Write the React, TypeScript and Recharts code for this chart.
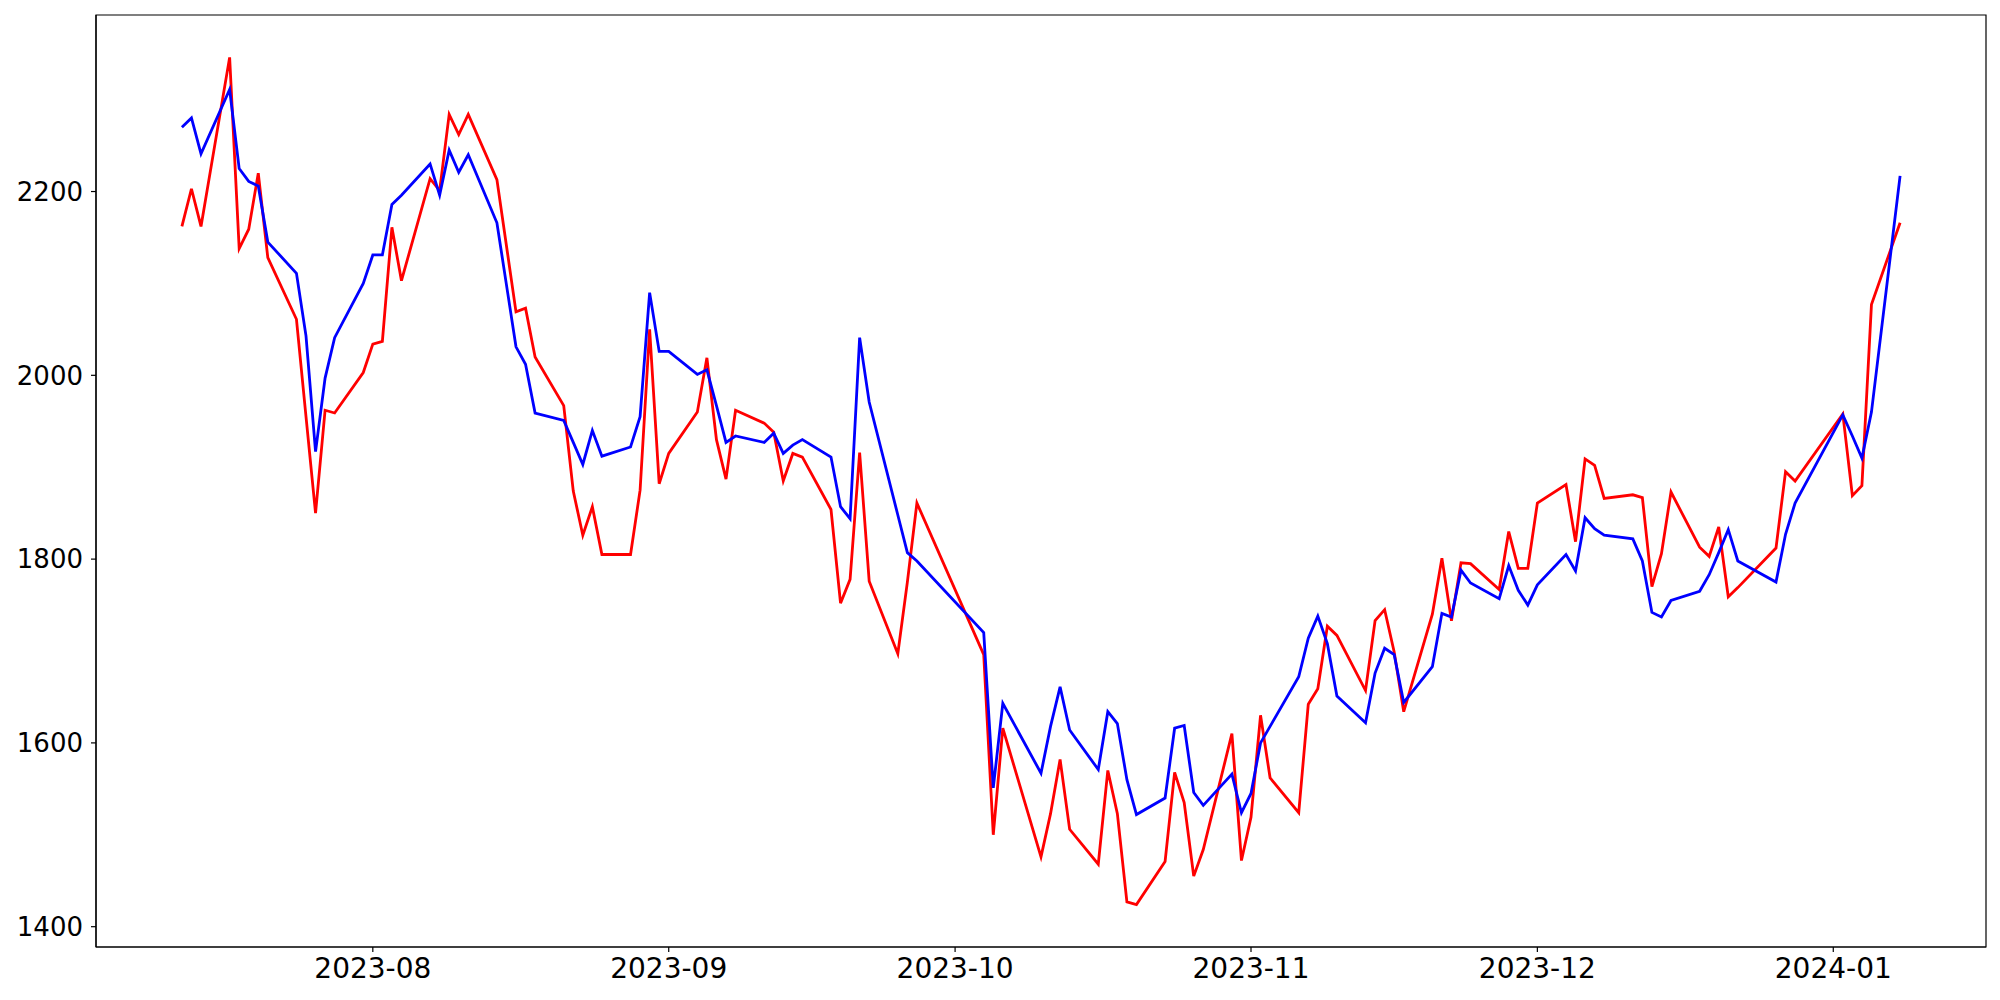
import { LineChart, Line, XAxis, YAxis, ReferenceArea } from "recharts";

const dates = [
  "2023-07-12", "2023-07-13", "2023-07-14", "2023-07-17", "2023-07-18", "2023-07-19", "2023-07-20", "2023-07-21",
  "2023-07-24", "2023-07-25", "2023-07-26", "2023-07-27", "2023-07-28", "2023-07-31",
  "2023-08-01", "2023-08-02", "2023-08-03", "2023-08-04", "2023-08-07", "2023-08-08", "2023-08-09", "2023-08-10",
  "2023-08-11", "2023-08-14", "2023-08-16", "2023-08-17", "2023-08-18", "2023-08-21", "2023-08-22", "2023-08-23",
  "2023-08-24", "2023-08-25", "2023-08-28", "2023-08-29", "2023-08-30", "2023-08-31",
  "2023-09-01", "2023-09-04", "2023-09-05", "2023-09-06", "2023-09-07", "2023-09-08", "2023-09-11", "2023-09-12",
  "2023-09-13", "2023-09-14", "2023-09-15", "2023-09-18", "2023-09-19", "2023-09-20", "2023-09-21", "2023-09-22",
  "2023-09-25", "2023-09-26", "2023-09-27",
  "2023-10-04", "2023-10-05", "2023-10-06", "2023-10-10", "2023-10-11", "2023-10-12", "2023-10-13", "2023-10-16",
  "2023-10-17", "2023-10-18", "2023-10-19", "2023-10-20", "2023-10-23", "2023-10-24", "2023-10-25", "2023-10-26",
  "2023-10-27", "2023-10-30", "2023-10-31",
  "2023-11-01", "2023-11-02", "2023-11-03", "2023-11-06", "2023-11-07", "2023-11-08", "2023-11-09", "2023-11-10",
  "2023-11-13", "2023-11-14", "2023-11-15", "2023-11-16", "2023-11-17", "2023-11-20", "2023-11-21", "2023-11-22",
  "2023-11-23", "2023-11-24", "2023-11-27", "2023-11-28", "2023-11-29", "2023-11-30",
  "2023-12-01", "2023-12-04", "2023-12-05", "2023-12-06", "2023-12-07", "2023-12-08", "2023-12-11", "2023-12-12",
  "2023-12-13", "2023-12-14", "2023-12-15", "2023-12-18", "2023-12-19", "2023-12-20", "2023-12-21", "2023-12-22",
  "2023-12-26", "2023-12-27", "2023-12-28",
  "2024-01-02", "2024-01-03", "2024-01-04", "2024-01-05", "2024-01-08",
];

const redValues = [
  2162, 2203, 2162, 2346, 2138, 2159, 2220, 2128, 2061, 1955, 1850, 1962, 1959, 2003,
  2034, 2037, 2161, 2103, 2214, 2201, 2284, 2262, 2284, 2213, 2069, 2073, 2020, 1967, 1874, 1826,
  1857, 1805, 1805, 1875, 2050, 1882,
  1915, 1960, 2019, 1930, 1887, 1962, 1948, 1938, 1885, 1915, 1911, 1854, 1752, 1778, 1916, 1776,
  1697, 1775, 1861,
  1696, 1500, 1616, 1476, 1523, 1582, 1506, 1468, 1570, 1523, 1427, 1424, 1471, 1568, 1535, 1455,
  1484, 1610, 1472,
  1519, 1630, 1562, 1524, 1642, 1659, 1727, 1717, 1657, 1733, 1745, 1699, 1634, 1740, 1801, 1733,
  1796, 1795, 1767, 1830, 1790, 1790,
  1861, 1881, 1819, 1909, 1902, 1866, 1870, 1867, 1770, 1806, 1873, 1813, 1803, 1835, 1759, 1769,
  1812, 1895, 1885,
  1958, 1869, 1880, 2077, 2166,
];

const blueValues = [
  2270, 2280, 2241, 2311, 2225, 2211, 2206, 2145, 2111, 2043, 1917, 1997, 2041, 2100,
  2131, 2131, 2186, 2196, 2230, 2196, 2245, 2221, 2240, 2166, 2031, 2012, 1959, 1951, 1927, 1903,
  1940, 1912, 1922, 1955, 2090, 2026,
  2026, 2001, 2006, 1967, 1927, 1934, 1927, 1937, 1915, 1924, 1930, 1911, 1857, 1844, 2041, 1971,
  1848, 1807, 1798,
  1720, 1551, 1643, 1567, 1618, 1661, 1614, 1571, 1634, 1621, 1560, 1522, 1540, 1616, 1619, 1546,
  1532, 1566, 1524,
  1545, 1600, 1618, 1672, 1714, 1738, 1708, 1651, 1622, 1676, 1703, 1696, 1644, 1683, 1741, 1737,
  1788, 1774, 1757, 1793, 1766, 1750,
  1772, 1805, 1787, 1845, 1833, 1826, 1822, 1798, 1742, 1737, 1755, 1765, 1783, 1807, 1832, 1798,
  1775, 1827, 1861,
  1957, 1934, 1910, 1960, 2217,
];

const monthTicks = ["2023-08-01", "2023-09-01", "2023-10-01", "2023-11-01", "2023-12-01", "2024-01-01"];
const yTicks = [1400, 1600, 1800, 2000, 2200];

const DAY = 86400000;
const toTs = (s: string) => {
  const [y, m, d] = s.split("-").map(Number);
  return Date.UTC(y, m - 1, d);
};

const data = dates.map((d, i) => ({ t: toTs(d), red: redValues[i], blue: blueValues[i] }));

// matplotlib-style 5% margins
const tFirst = data[0].t;
const tLast = data[data.length - 1].t;
const tPad = (tLast - tFirst) * 0.05;
const xDomain: [number, number] = [tFirst - tPad, tLast + tPad];

const allVals = [...redValues, ...blueValues];
const vMin = Math.min(...allVals);
const vMax = Math.max(...allVals);
const vPad = (vMax - vMin) * 0.05;
const yDomain: [number, number] = [vMin - vPad, vMax + vPad];

const font = "DejaVu Sans";

export default function App() {
  return (
    <div style={{ position: "absolute", left: 0, top: 0, width: 2000, height: 1000, background: "#fff" }}>
      <LineChart
        width={2000}
        height={1000}
        data={data}
        margin={{ top: 15, right: 14, bottom: 0, left: 0 }}
      >
        <XAxis
          dataKey="t"
          type="number"
          domain={xDomain}
          allowDataOverflow
          ticks={monthTicks.map(toTs)}
          tickFormatter={(v: number) => new Date(v + DAY / 2).toISOString().slice(0, 7)}
          height={53}
          stroke="#000"
          strokeWidth={1.2}
          tickSize={5}
          tickMargin={6}
          tick={{ fill: "#000", fontSize: 28, fontFamily: font }}
        />
        <YAxis
          type="number"
          domain={yDomain}
          allowDataOverflow
          ticks={yTicks}
          width={96}
          stroke="#000"
          strokeWidth={1.2}
          tickSize={5}
          tickMargin={8}
          tick={{ fill: "#000", fontSize: 26, fontFamily: font }}
        />
        <ReferenceArea
          x1={xDomain[0]}
          x2={xDomain[1]}
          y1={yDomain[0]}
          y2={yDomain[1]}
          fill="none"
          stroke="#000"
          strokeWidth={1.2}
          ifOverflow="visible"
        />
        <Line
          type="linear"
          dataKey="red"
          stroke="#ff0000"
          strokeWidth={2.8}
          dot={false}
          isAnimationActive={false}
        />
        <Line
          type="linear"
          dataKey="blue"
          stroke="#0000ff"
          strokeWidth={2.8}
          dot={false}
          isAnimationActive={false}
        />
      </LineChart>
    </div>
  );
}
